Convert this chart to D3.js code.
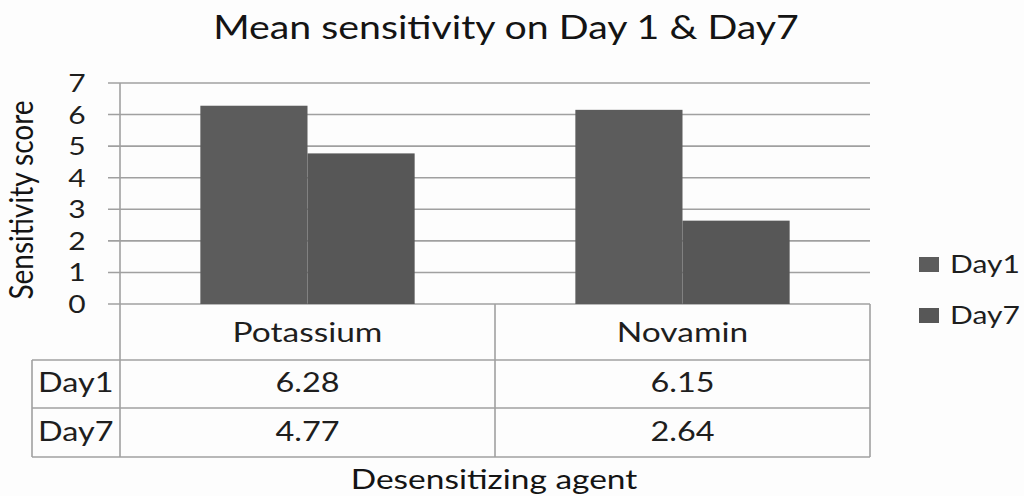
<!DOCTYPE html>
<html>
<head>
<meta charset="utf-8">
<script src="https://cdn.jsdelivr.net/npm/d3@7"></script>
<style>
  body { margin: 0; background: #fdfdfd; }
  svg { display: block; }
</style>
</head>
<body>
<div id="chart"></div>
<script>
const categories = ['Potassium', 'Novamin'];
const seriesNames = ['Day1', 'Day7'];
const day1Values = [6.28, 6.15];
const day7Values = [4.77, 2.64];
const yTicks = [0, 1, 2, 3, 4, 5, 6, 7];

const width = 1024;
const height = 496;
const plot = { left: 120, right: 870, top: 83, bottom: 304 };
const table = { left: 32, headerBottom: 360, row1Bottom: 408, row2Bottom: 457 };
const font = 'Lato, "Open Sans", sans-serif';
const gridColor = '#a0a0a0';
const textColor = '#1e1e1e';
const barColors = { Day1: '#5c5c5c', Day7: '#575757' };
const wide = 1.24; // the source text is drawn wider than Lato

// widen text horizontally to match the reference lettering
function stretch(sel, factor) {
  sel.each(function () {
    const len = this.getComputedTextLength();
    d3.select(this).attr('textLength', len * factor).attr('lengthAdjust', 'spacingAndGlyphs');
  });
}

const svg = d3.select('#chart')
  .append('svg')
  .attr('width', width)
  .attr('height', height)
  .style('font-family', font);

svg.append('rect').attr('width', width).attr('height', height).attr('fill', '#fdfdfd');

const x = d3.scaleBand().domain(categories).range([plot.left, plot.right]);
const xs = d3.scaleBand().domain(seriesNames).range([0, x.bandwidth()]).paddingOuter(0.75);
const y = d3.scaleLinear().domain([0, 7]).range([plot.bottom, plot.top]);

// Gridlines
svg.append('g')
  .selectAll('line')
  .data(yTicks)
  .join('line')
  .attr('x1', plot.left - 12)
  .attr('x2', plot.right)
  .attr('y1', d => y(d))
  .attr('y2', d => y(d))
  .attr('stroke', gridColor)
  .attr('stroke-width', 1.6);

// Y tick labels
svg.append('g')
  .selectAll('text')
  .data(yTicks)
  .join('text')
  .attr('x', 77)
  .attr('y', d => y(d))
  .attr('dy', '0.36em')
  .attr('text-anchor', 'middle')
  .style('font-size', '25px')
  .attr('fill', textColor)
  .text(d => d)
  .call(stretch, 1.2);

// Bars
const rows = categories.map((c, i) => ({ category: c, Day1: day1Values[i], Day7: day7Values[i] }));
const groups = svg.append('g')
  .selectAll('g')
  .data(rows)
  .join('g')
  .attr('transform', d => `translate(${x(d.category)},0)`);

groups.selectAll('rect')
  .data(d => seriesNames.map(s => ({ series: s, value: d[s] })))
  .join('rect')
  .attr('x', d => xs(d.series))
  .attr('width', xs.bandwidth())
  .attr('y', d => y(d.value))
  .attr('height', d => y(0) - y(d.value))
  .attr('fill', d => barColors[d.series]);

// Y axis line
svg.append('line')
  .attr('x1', plot.left).attr('x2', plot.left)
  .attr('y1', plot.top).attr('y2', table.row2Bottom)
  .attr('stroke', gridColor).attr('stroke-width', 1.6);

// Data table
const tableLines = svg.append('g').attr('stroke', gridColor).attr('stroke-width', 1.6);
[table.headerBottom, table.row1Bottom, table.row2Bottom].forEach(yy => {
  tableLines.append('line').attr('x1', table.left).attr('x2', plot.right).attr('y1', yy).attr('y2', yy);
});
categories.forEach(c => {
  tableLines.append('line').attr('x1', x(c) + x.bandwidth()).attr('x2', x(c) + x.bandwidth())
    .attr('y1', plot.bottom).attr('y2', table.row2Bottom);
});
tableLines.append('line').attr('x1', table.left).attr('x2', table.left)
  .attr('y1', table.headerBottom).attr('y2', table.row2Bottom);

// Category headers
svg.append('g')
  .selectAll('text')
  .data(categories)
  .join('text')
  .attr('x', d => x(d) + x.bandwidth() / 2)
  .attr('y', 342)
  .attr('text-anchor', 'middle')
  .style('font-size', '27px')
  .attr('fill', textColor)
  .text(d => d)
  .call(stretch, wide);

// Table rows
const tableRows = [
  { name: 'Day1', values: day1Values, top: table.headerBottom, bottom: table.row1Bottom },
  { name: 'Day7', values: day7Values, top: table.row1Bottom, bottom: table.row2Bottom }
];
tableRows.forEach(r => {
  const baseline = r.bottom - 16;
  svg.append('text')
    .attr('x', table.left + 6)
    .attr('y', baseline)
    .style('font-size', '27px')
    .attr('fill', textColor)
    .text(r.name)
    .call(stretch, 1.2);
  categories.forEach((c, i) => {
    svg.append('text')
      .attr('x', x(c) + x.bandwidth() / 2)
      .attr('y', baseline)
      .attr('text-anchor', 'middle')
      .style('font-size', '27px')
      .attr('fill', textColor)
      .text(r.values[i].toFixed(2))
      .call(stretch, 1.2);
  });
});

// Legend
const legend = svg.append('g').attr('transform', 'translate(919,257)');
seriesNames.forEach((s, i) => {
  const row = legend.append('g').attr('transform', `translate(0, ${i * 51})`);
  row.append('rect').attr('width', 20).attr('height', 15).attr('fill', barColors[s]);
  row.append('text')
    .attr('x', 31)
    .attr('y', 16)
    .style('font-size', '25px')
    .attr('fill', textColor)
    .text(s)
    .call(stretch, 1.2);
});

// Title
svg.append('text')
  .attr('x', 506)
  .attr('y', 39)
  .attr('text-anchor', 'middle')
  .style('font-size', '33px')
  .attr('fill', '#141414')
  .text('Mean sensitivity on Day 1 & Day7')
  .call(stretch, 1.19);

// Axis titles
svg.append('text')
  .attr('transform', 'translate(33,200) scale(1.15,1) rotate(-90)')
  .attr('text-anchor', 'middle')
  .style('font-size', '28px')
  .attr('fill', '#141414')
  .text('Sensitivity score');

svg.append('text')
  .attr('x', 494)
  .attr('y', 489)
  .attr('text-anchor', 'middle')
  .style('font-size', '27px')
  .attr('fill', '#141414')
  .text('Desensitizing agent')
  .call(stretch, wide);
</script>
</body>
</html>
